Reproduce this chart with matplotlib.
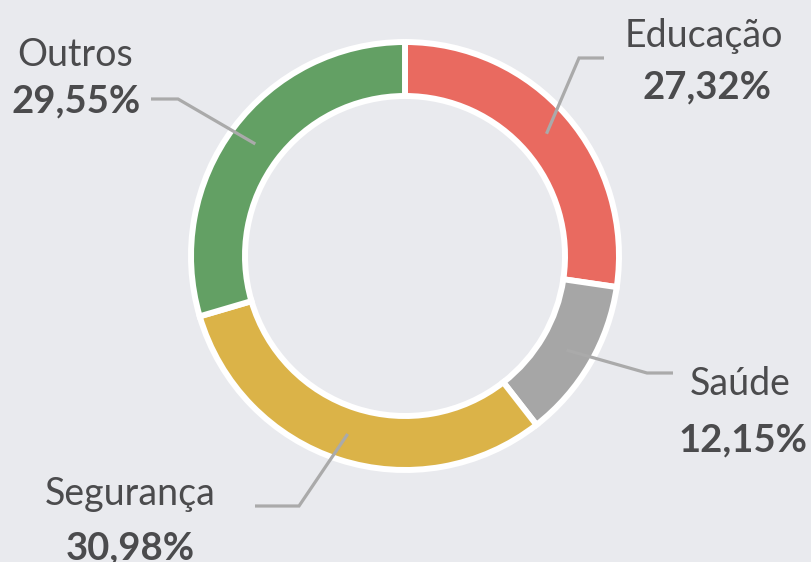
import numpy as np
import matplotlib
matplotlib.use("Agg")
import matplotlib.pyplot as plt

# ---- data ----
categories = ["Educação", "Saúde", "Segurança", "Outros"]
values = [27.32, 12.15, 30.98, 29.55]
pct_labels = ["27,32%", "12,15%", "30,98%", "29,55%"]
colors = ["#e96a60", "#a6a6a6", "#dbb348", "#63a064"]

# ---- layout (pixel coordinates, y from top) ----
W, H = 811, 562
cx, cy = 405, 256
R_out, R_in = 214, 160
layout = {
    "Educação":  dict(ex=579, ey=58,  lx=604, nx=704, ny=47,  px=707, py=98),
    "Saúde":     dict(ex=647, ey=373, lx=673, nx=740, ny=395, px=743, py=451),
    "Segurança": dict(ex=299, ey=506, lx=255, nx=130, ny=505, px=130, py=559),
    "Outros":    dict(ex=178, ey=99,  lx=151, nx=75,  ny=66,  px=76,  py=112),
}

bg = "#e9eaee"
text_col = "#4b4b4d"
line_col = "#aaaaaa"

fig = plt.figure(figsize=(W / 100, H / 100), dpi=100, facecolor=bg)
ax = fig.add_axes([0, 0, 1, 1])
ax.set_facecolor(bg)

def Y(y):
    return H - y

wedges, _ = ax.pie(values, colors=colors, startangle=90, counterclock=False,
                   radius=R_out, center=(cx, Y(cy)),
                   wedgeprops=dict(width=R_out - R_in, edgecolor="white", linewidth=4.3))

total = sum(values)
cum = np.cumsum([0] + values[:-1])
r_mid = (R_out + R_in) / 2
for i, cat in enumerate(categories):
    L = layout[cat]
    frac_mid = (cum[i] + values[i] / 2) / total
    ang = np.deg2rad(90 - 360 * frac_mid)
    axp = cx + r_mid * np.cos(ang)
    ayp = cy - r_mid * np.sin(ang)
    ax.plot([axp, L["ex"], L["lx"]], [Y(ayp), Y(L["ey"]), Y(L["ey"])],
            color=line_col, lw=2.3, solid_joinstyle="miter", solid_capstyle="butt", zorder=5)
    ax.text(L["nx"], Y(L["ny"]), cat, ha="center", va="baseline",
            fontsize=27, family="Lato", color=text_col, zorder=6)
    ax.text(L["px"], Y(L["py"]), pct_labels[i], ha="center", va="baseline",
            fontsize=27.5, family="Lato", fontweight="bold", color=text_col, zorder=6)

ax.set_xlim(0, W)
ax.set_ylim(0, H)
ax.set_aspect("auto")
ax.axis("off")

fig.savefig("out.png", dpi=100, facecolor=bg)
